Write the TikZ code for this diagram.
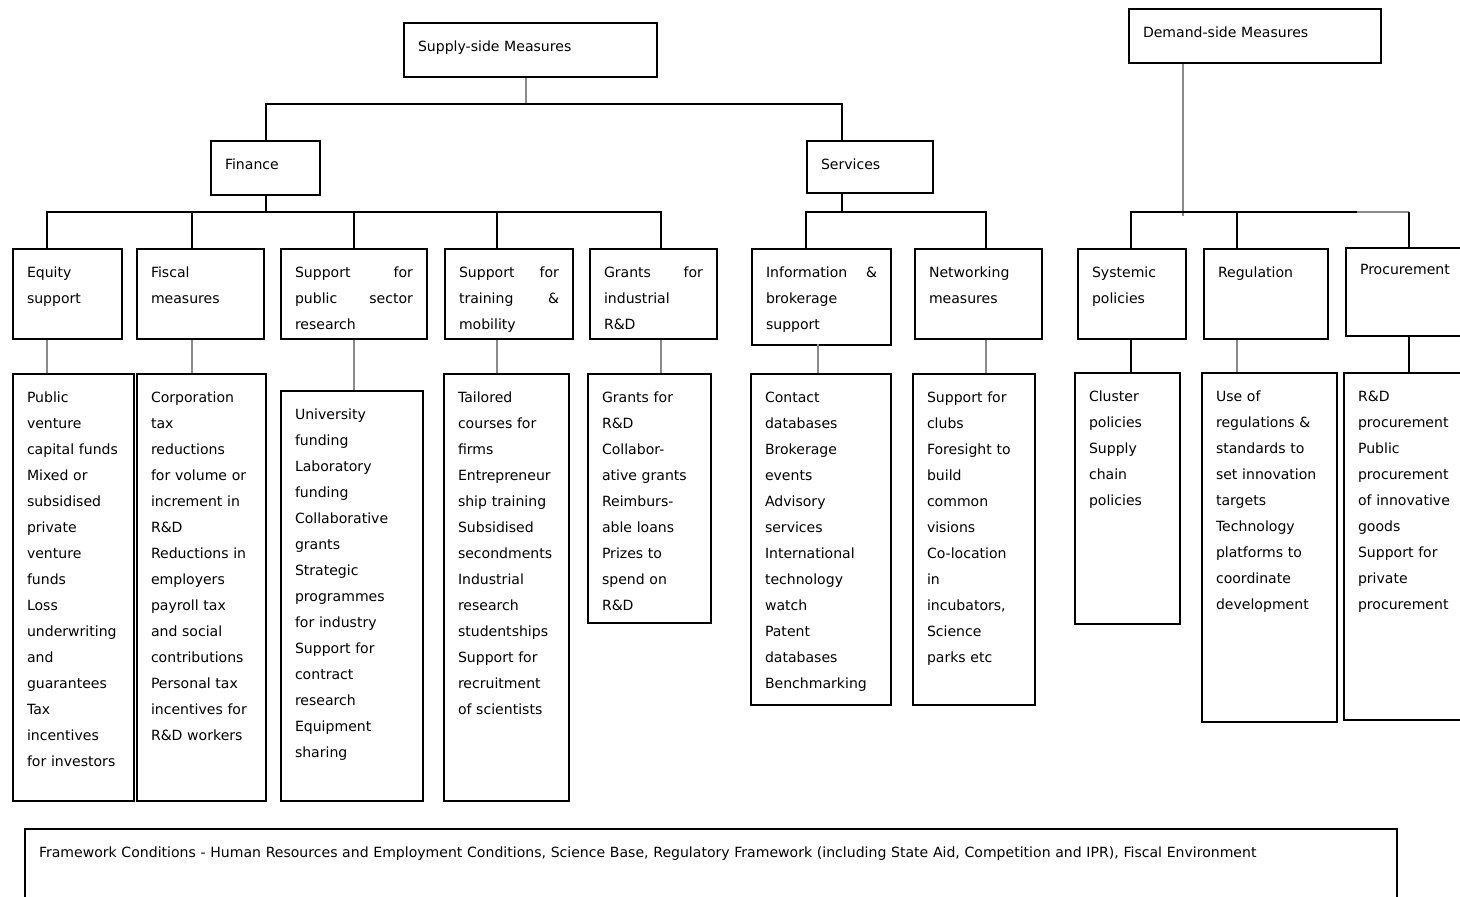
\documentclass[tikz,border=0pt]{standalone}
\usepackage{fontspec}
\setmainfont{DejaVu Sans}
\definecolor{lnk}{HTML}{8A8A8A}

\begin{document}
\begin{tikzpicture}[x=0.2mm, y=-0.2mm,
    box/.style={rectangle, draw, line width=0.4mm, anchor=north west, align=left, inner xsep=2.8mm, inner ysep=0pt, text height=5.6mm, font=\fontsize{8}{14.8}\selectfont},
    link/.style={line width=0.4mm},
    faint/.style={line width=0.35mm, draw=lnk}]
    \useasboundingbox (0,0) rectangle (1460,896);
    \clip (0,0) rectangle (1460,896);
    % Nodes
    \node[box, text width=45mm, text depth=5.2mm] (sup) at (403,22) {Supply-side Measures};
    \node[box, text width=44.8mm, text depth=5.2mm] (dem) at (1128,8) {Demand-side Measures};
    \node[box, text width=16.2mm, text depth=5.2mm] (fin) at (210,140) {Finance};
    \node[box, text width=19.6mm, text depth=4.8mm] (ser) at (806,140) {Services};

    \node[box, text width=16.2mm, text depth=12.4mm] (eq) at (12,248) {Equity\\support};
    \node[box, text width=19.8mm, text depth=12.4mm] (fis) at (136,248) {Fiscal\\measures};
    \node[box, text width=23.6mm, text depth=12.4mm] (pub) at (280,248) {Support\hfill for\\public\hfill sector\\research};
    \node[box, text width=20mm, text depth=12.4mm] (tra) at (444,248) {Support\hfill for\\training\hfill \&\\mobility};
    \node[box, text width=19.8mm, text depth=12.4mm] (gra) at (589,248) {Grants\hfill for\\industrial\\R\&D};
    \node[box, text width=22.2mm, text depth=13.6mm] (inf) at (751,248) {Information\hfill \&\\brokerage\\support};
    \node[box, text width=19.8mm, text depth=12.4mm] (net) at (914,248) {Networking\\measures};
    \node[box, text width=16mm, text depth=12.4mm] (sys) at (1077,248) {Systemic\\policies};
    \node[box, text width=19.2mm, text depth=12.4mm] (reg) at (1203,248) {Regulation};
    \node[box, text width=21.4mm, text depth=12.4mm, text height=5.2mm] (pro) at (1345,247) {Procurement};

    \node[box, text width=18.6mm, text depth=79.8mm] (eq3) at (12,373) {Public\\venture\\capital~funds\\Mixed or\\subsidised\\private\\venture\\funds\\Loss\\underwriting\\and\\guarantees\\Tax\\incentives\\for~investors};
    \node[box, text width=20.2mm, text depth=79.8mm] (fis3) at (136,373) {Corporation\\tax\\reductions\\for volume or\\increment in\\R\&D\\Reductions~in\\employers\\payroll tax\\and social\\contributions\\Personal tax\\incentives~for\\R\&D~workers};
    \node[box, text width=22.8mm, text depth=76.4mm] (pub3) at (280,390) {University\\funding\\Laboratory\\funding\\Collaborative\\grants\\Strategic\\programmes\\for industry\\Support for\\contract\\research\\Equipment\\sharing};
    \node[box, text width=19.4mm, text depth=79.8mm] (tra3) at (443,373) {Tailored\\courses for\\firms\\Entrepreneur\\ship~training\\Subsidised\\secondments\\Industrial\\research\\studentships\\Support for\\recruitment\\of~scientists};
    \node[box, text width=19mm, text depth=44.2mm] (gra3) at (587,373) {Grants for\\R\&D\\Collabor-\\ative~grants\\Reimburs-\\able loans\\Prizes to\\spend on\\R\&D};
    \node[box, text width=22.4mm, text depth=60.6mm] (inf3) at (750,373) {Contact\\databases\\Brokerage\\events\\Advisory\\services\\International\\technology\\watch\\Patent\\databases\\Benchmarking};
    \node[box, text width=18.8mm, text depth=60.6mm] (net3) at (912,373) {Support for\\clubs\\Foresight~to\\build\\common\\visions\\Co-location\\in\\incubators,\\Science\\parks etc};
    \node[box, text width=15.4mm, text depth=44.6mm] (sys3) at (1074,372) {Cluster\\policies\\Supply\\chain\\policies};
    \node[box, text width=21.4mm, text depth=64.2mm] (reg3) at (1201,372) {Use of\\regulations~\&\\standards to\\set~innovation\\targets\\Technology\\platforms to\\coordinate\\development};
    \node[box, text width=22.4mm, text depth=63.8mm] (pro3) at (1343,372) {R\&D\\procurement\\Public\\procurement\\of innovative\\goods\\Support for\\private\\procurement};

    \node[box, text width=268.8mm, text depth=14.4mm] (fw) at (24,828) {Framework Conditions - Human Resources and Employment Conditions, Science Base, Regulatory Framework (including State Aid, Competition and IPR), Fiscal Environment};

    % Bus points
    \coordinate (sb) at (526,104);
    \coordinate (fb) at (264,212);
    \coordinate (svb) at (842,212);
    \coordinate (db) at (1183,212);
    \coordinate (serT) at (842,140);
    \coordinate (eqT) at (47,248);
    \coordinate (fisT) at (192,248);
    \coordinate (pubT) at (354,248);
    \coordinate (traT) at (497,248);
    \coordinate (graT) at (661,248);
    \coordinate (infT) at (806,248);
    \coordinate (infB) at (818,344);
    \coordinate (netT) at (986,248);
    \coordinate (sysT) at (1131,248);
    \coordinate (regT) at (1237,248);
    \coordinate (proT) at (1409,247);

    % Lines
    \draw[faint] (sb |- sup.south) -- (sb);
    \draw[link] (fin.north) |- (sb) -| (serT);
    \draw[link] (fin.south) -- (fin.south |- fb);
    \draw[link] (eqT) |- (fb) -| (graT);
    \draw[link] (fisT) -- (fisT |- fb);
    \draw[link] (pubT) -- (pubT |- fb);
    \draw[link] (traT) -- (traT |- fb);
    \draw[link] (svb |- ser.south) -- (svb);
    \draw[link] (infT) |- (svb) -| (netT);
    \draw[faint] (db |- dem.south) -- ([yshift=-0.8mm]db);
    \draw[link] (sysT) |- (db) -- (db -| regT) -- +(120,0);
    \draw[link] (regT) -- (regT |- db);
    \draw[faint] ([xshift=24mm]db -| regT) -- (db -| proT);
    \draw[link] (proT) -- (proT |- db);

    \draw[faint] (eqT |- eq.south) -- (eqT |- eq3.north);
    \draw[faint] (fisT |- fis.south) -- (fisT |- fis3.north);
    \draw[faint] (pubT |- pub.south) -- (pubT |- pub3.north);
    \draw[faint] (traT |- tra.south) -- (traT |- tra3.north);
    \draw[faint] (graT |- gra.south) -- (graT |- gra3.north);
    \draw[faint] (infB) -- (infB |- inf3.north);
    \draw[faint] (netT |- net.south) -- (netT |- net3.north);
    \draw[link] (sysT |- sys.south) -- (sysT |- sys3.north);
    \draw[faint] (regT |- reg.south) -- (regT |- reg3.north);
    \draw[link] (proT |- pro.south) -- (proT |- pro3.north);
\end{tikzpicture}
\end{document}
